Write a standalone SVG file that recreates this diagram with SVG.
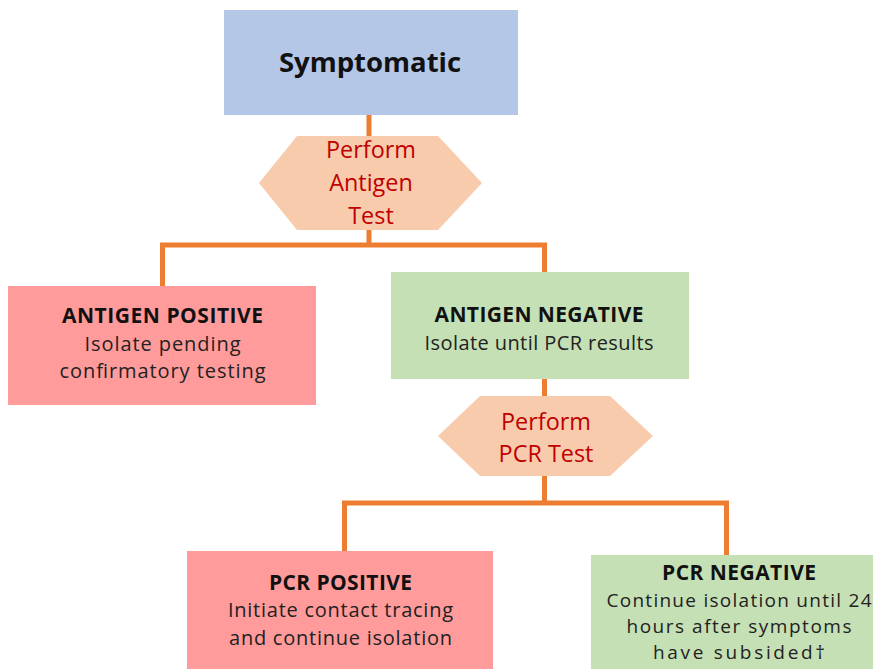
<svg xmlns="http://www.w3.org/2000/svg" width="873" height="669" viewBox="0 0 873 669">
<style>
text{font-family:"Open Sans","Noto Sans","Liberation Sans",sans-serif;text-anchor:middle;fill:#222;font-size:20px}
.b{font-weight:bold;fill:#111;font-size:21px}
.s{font-size:19px}
.h{fill:#C00000;font-size:23.4px}
.line{stroke:#ED7D31;stroke-width:5;fill:none}
.hex{fill:#F8CBAD}
</style>
<rect width="873" height="669" fill="#fff"/>
<g id="connectors">
<path class="line" d="M369 115V137"/>
<path class="line" d="M369 229V245M162.5 286V245H544.5V272"/>
<path class="line" d="M544.5 379V397"/>
<path class="line" d="M544.5 475V503M344.5 551V503H726.5V555"/>
</g>
<g id="symptomatic">
<rect x="224" y="10" width="294" height="105" fill="#B4C7E7"/>
<text class="b" x="370" y="72" style="font-size:27.5px">Symptomatic</text>
</g>
<g id="antigen-test">
<polygon class="hex" points="259,183 297,136 438,136 482,183 438,230 297,230"/>
<text class="h" x="371" y="158">Perform</text>
<text class="h" x="371" y="191">Antigen</text>
<text class="h" x="371" y="224">Test</text>
</g>
<g id="antigen-positive">
<rect x="8" y="286" width="308" height="119" fill="#FF9B9B"/>
<text class="b" x="162.5" y="322.5" textLength="201" lengthAdjust="spacing">ANTIGEN POSITIVE</text>
<text x="162.5" y="350.5" textLength="156" lengthAdjust="spacing">Isolate pending</text>
<text x="162.5" y="378" textLength="206" lengthAdjust="spacing">confirmatory testing</text>
</g>
<g id="antigen-negative">
<rect x="391" y="272" width="298" height="107" fill="#C5E0B4"/>
<text class="b" x="539" y="322" textLength="209" lengthAdjust="spacing">ANTIGEN NEGATIVE</text>
<text x="539" y="349.8" textLength="229" lengthAdjust="spacing">Isolate until PCR results</text>
</g>
<g id="pcr-test">
<polygon class="hex" points="438,436 480,396 610,396 653,436 610,476 480,476"/>
<text class="h" x="546" y="430">Perform</text>
<text class="h" x="546" y="462">PCR Test</text>
</g>
<g id="pcr-positive">
<rect x="187" y="551" width="306" height="130" fill="#FF9B9B"/>
<text class="b" x="340.5" y="589.5" textLength="143" lengthAdjust="spacing">PCR POSITIVE</text>
<text x="340.5" y="617.4" textLength="225" lengthAdjust="spacing">Initiate contact tracing</text>
<text x="340.5" y="644.8" textLength="223" lengthAdjust="spacing">and continue isolation</text>
</g>
<g id="pcr-negative">
<rect x="591" y="555" width="296" height="130" fill="#C5E0B4"/>
<text class="b" x="739" y="580" textLength="154" lengthAdjust="spacing">PCR NEGATIVE</text>
<text class="s" x="739" y="606.8" textLength="265" lengthAdjust="spacing">Continue isolation until 24</text>
<text class="s" x="739" y="632.8" textLength="225" lengthAdjust="spacing">hours after symptoms</text>
<text class="s" x="739" y="658.8" textLength="172" lengthAdjust="spacing">have subsided†</text>
</g>
</svg>
